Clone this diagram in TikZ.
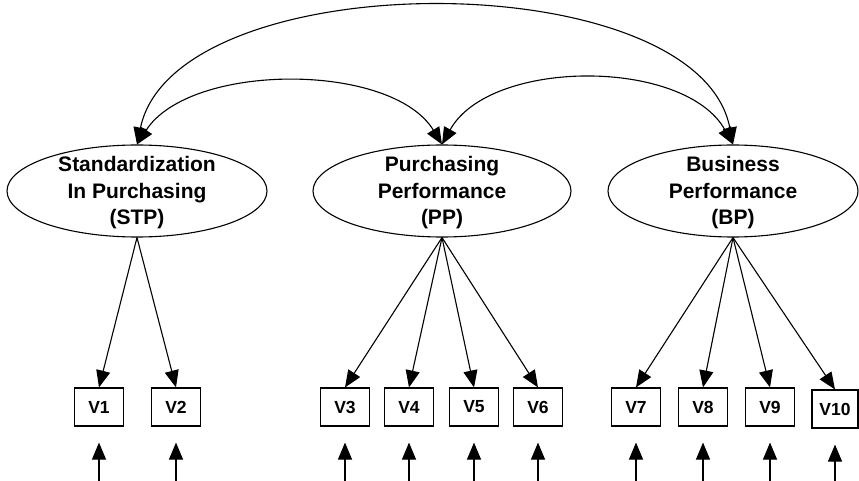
\documentclass[tikz,border=0pt]{standalone}
\usepackage{fontspec}
\setmainfont{Liberation Sans}
\usetikzlibrary{arrows.meta,shapes.geometric}
\begin{document}
\begin{tikzpicture}[x=1pt,y=-1pt,
  line width=1.1pt,
  tip/.style={-{Triangle[length=17pt,width=14pt]}},
  twotip/.style={{Triangle[length=17pt,width=14pt]}-{Triangle[length=17pt,width=14pt]}},
  latent/.style={ellipse,draw,minimum height=92pt,inner sep=0pt},
  latenttext/.style={font=\bfseries\fontsize{21}{26.5}\selectfont,align=center},
  obs/.style={draw,minimum width=49pt,minimum height=38pt,inner sep=0pt,font=\bfseries\fontsize{17.5}{20}\selectfont}]
\useasboundingbox (0,0) rectangle (859,481);
% latent variables
\node[latent,minimum width=260pt] (stp) at (137,191) {};
\node[latent,minimum width=258pt] (pp) at (442,191) {};
\node[latent,minimum width=250pt] (bp) at (733,191) {};
\node[latenttext] (stpt) at (137,193) {Standardization\\In Purchasing\\(STP)};
\node[latenttext] (ppt) at (442,193) {Purchasing\\Performance\\(PP)};
\node[latenttext] (bpt) at (733,193) {Business\\Performance\\(BP)};
% observed
\node[obs] (v1) at (99,407) {V1};
\node[obs] (v2) at (176,407) {V2};
\node[obs] (v3) at (345,407) {V3};
\node[obs] (v4) at (409,407) {V4};
\node[obs] (v5) at (474,407) {V5};
\node[obs] (v6) at (538,407) {V6};
\node[obs] (v7) at (636,407) {V7};
\node[obs] (v8) at (703,407) {V8};
\node[obs] (v9) at (770,407) {V9};
\node[obs,minimum width=46pt] (v10) at (835,409) {V10};
% covariances
\draw[twotip] (stp.north) .. controls (175,-38) and (698,-38) .. (bp.north);
\draw[twotip] (stp.north) .. controls (190,62) and (392,62) .. (pp.north);
\draw[twotip] (pp.north) .. controls (490,58) and (685,58) .. (bp.north);
% loadings
\foreach \v in {v1,v2} \draw[tip] (stp.south) -- (\v.north);
\foreach \v in {v3,v4,v5,v6} \draw[tip] (pp.south) -- (\v.north);
\foreach \v in {v7,v8,v9,v10} \draw[tip] (bp.south) -- (\v.north);
% errors
\foreach \v in {v1,v2,v3,v4,v5,v6,v7,v8,v9,v10} {
  \coordinate (e\v) at (\v.center |- 0,481);
  \draw[tip] (e\v) -- ([yshift=-16pt]\v.south);
}
\end{tikzpicture}
\end{document}
